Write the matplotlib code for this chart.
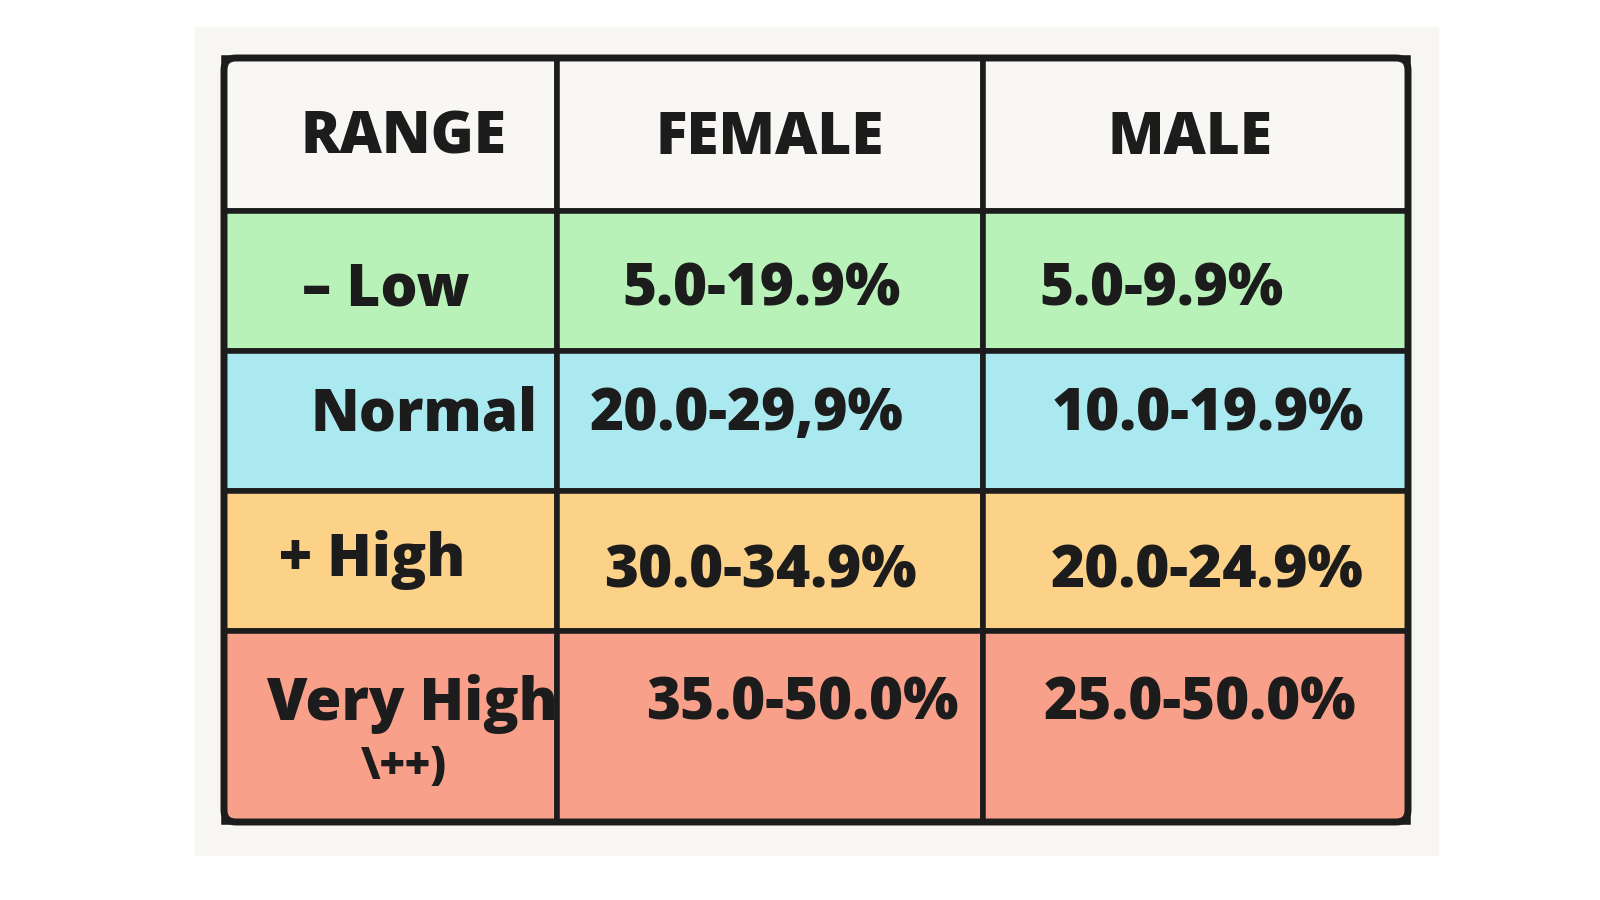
import matplotlib
matplotlib.use("Agg")
import matplotlib.pyplot as plt
from matplotlib.patches import Rectangle, FancyBboxPatch

headers = ["RANGE", "FEMALE", "MALE"]
ranges = ["– Low", "Normal", "+ High", "Very High\n\\++)"]
female = ["5.0-19.9%", "20.0-29,9%", "30.0-34.9%", "35.0-50.0%"]
male = ["5.0-9.9%", "10.0-19.9%", "20.0-24.9%", "25.0-50.0%"]
row_colors = ["#b9f2b9", "#a9e9ef", "#fcd188", "#f9a08b"]
header_color = "#f8f7f4"

fig = plt.figure(figsize=(16, 9), dpi=100)
ax = fig.add_axes([0, 0, 1, 1])
ax.set_xlim(0, 1600); ax.set_ylim(900, 0); ax.axis("off")
ax.add_patch(Rectangle((195, 27), 1243, 828, color="#f7f6f3", zorder=0))

cols = [224, 557, 983, 1408]
rows = [58, 211, 351, 491, 631, 822]
lw = 4
for r in range(5):
    for c in range(3):
        col = header_color if r == 0 else row_colors[r-1]
        ax.add_patch(Rectangle((cols[c], rows[r]), cols[c+1]-cols[c], rows[r+1]-rows[r],
                               facecolor=col, edgecolor="#1c1c1c", lw=lw, zorder=1))
ax.add_patch(FancyBboxPatch((cols[0], rows[0]), cols[3]-cols[0], rows[5]-rows[0],
                            boxstyle="round,pad=0,rounding_size=12", fill=False,
                            edgecolor="#1c1c1c", lw=lw+1, zorder=2))

font = dict(family="Open Sans", weight="extra bold", color="#1c1c1c", zorder=3)
hx = [403, 770, 1190]
for x, h in zip(hx, headers):
    ax.text(x, 138, h, ha="center", va="center", fontsize=42, **font)

rx = [(386, 290), (424, 415), (372, 560), (412, 704)]
fx = [(762, 290), (747, 415), (760, 572), (802, 704)]
mx = [(1162, 290), (1208, 415), (1207, 572), (1200, 704)]
for i in range(4):
    if i == 3:
        ax.text(rx[i][0], 704, "Very High", ha="center", va="center", fontsize=42, **font)
        ax.text(404, 768, "\\++)", ha="center", va="center", fontsize=32, **font)
    else:
        ax.text(rx[i][0], rx[i][1], ranges[i], ha="center", va="center", fontsize=42, **font)
    ax.text(fx[i][0], fx[i][1], female[i], ha="center", va="center", fontsize=42, **font)
    ax.text(mx[i][0], mx[i][1], male[i], ha="center", va="center", fontsize=42, **font)

fig.savefig("out.png", dpi=100, facecolor="white")
